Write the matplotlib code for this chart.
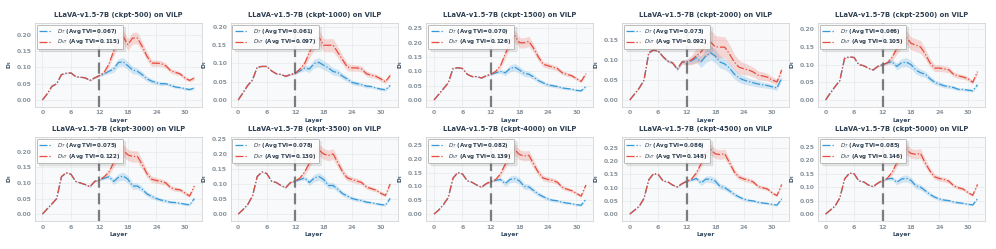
import matplotlib
matplotlib.use("Agg")
import matplotlib.pyplot as plt
import numpy as np

layers = list(range(33))
ckpts = [500, 1000, 1500, 2000, 2500, 3000, 3500, 4000, 4500, 5000]
avg_tvi_t = [0.067, 0.061, 0.070, 0.073, 0.066, 0.075, 0.078, 0.082, 0.086, 0.085]
avg_tvi_vt = [0.115, 0.097, 0.126, 0.092, 0.105, 0.122, 0.130, 0.139, 0.148, 0.146]

# D_T mean per checkpoint (layers 0..32)
dt_mean = [
    [0.0, 0.019, 0.042, 0.05, 0.078, 0.082, 0.083, 0.072, 0.07, 0.068, 0.06, 0.068, 0.075,
     0.08, 0.088, 0.095, 0.115, 0.117, 0.105, 0.092, 0.088, 0.078, 0.065, 0.058, 0.053, 0.05,
     0.05, 0.045, 0.04, 0.038, 0.035, 0.032, 0.037],
    [0.0, 0.02, 0.04, 0.055, 0.09, 0.092, 0.092, 0.08, 0.072, 0.07, 0.065, 0.07, 0.073,
     0.08, 0.087, 0.085, 0.1, 0.103, 0.095, 0.088, 0.078, 0.075, 0.065, 0.057, 0.048, 0.045,
     0.042, 0.038, 0.037, 0.033, 0.03, 0.028, 0.04],
    [0.0, 0.02, 0.04, 0.06, 0.11, 0.113, 0.11, 0.09, 0.082, 0.082, 0.077, 0.085, 0.09,
     0.095, 0.1, 0.095, 0.11, 0.115, 0.105, 0.093, 0.09, 0.08, 0.068, 0.06, 0.053, 0.05,
     0.047, 0.042, 0.04, 0.038, 0.034, 0.032, 0.048],
    [0.0, 0.015, 0.03, 0.05, 0.118, 0.125, 0.122, 0.108, 0.097, 0.093, 0.077, 0.095, 0.095,
     0.098, 0.105, 0.095, 0.11, 0.118, 0.11, 0.095, 0.09, 0.08, 0.065, 0.055, 0.05, 0.046,
     0.043, 0.04, 0.038, 0.036, 0.033, 0.03, 0.055],
    [0.0, 0.02, 0.038, 0.055, 0.118, 0.122, 0.12, 0.1, 0.097, 0.09, 0.085, 0.095, 0.1,
     0.105, 0.108, 0.095, 0.105, 0.107, 0.1, 0.085, 0.077, 0.073, 0.06, 0.05, 0.045, 0.04,
     0.038, 0.035, 0.03, 0.03, 0.028, 0.026, 0.043],
    [0.0, 0.017, 0.033, 0.05, 0.12, 0.133, 0.128, 0.105, 0.1, 0.095, 0.088, 0.105, 0.11,
     0.115, 0.12, 0.105, 0.118, 0.122, 0.112, 0.09, 0.09, 0.08, 0.065, 0.057, 0.05, 0.045,
     0.042, 0.038, 0.037, 0.035, 0.032, 0.03, 0.05],
    [0.0, 0.015, 0.032, 0.06, 0.125, 0.14, 0.135, 0.11, 0.105, 0.095, 0.088, 0.105, 0.11,
     0.115, 0.12, 0.105, 0.12, 0.125, 0.115, 0.095, 0.095, 0.082, 0.068, 0.06, 0.052, 0.048,
     0.045, 0.04, 0.038, 0.035, 0.032, 0.03, 0.052],
    [0.0, 0.015, 0.035, 0.06, 0.13, 0.15, 0.145, 0.12, 0.115, 0.105, 0.097, 0.11, 0.118,
     0.122, 0.125, 0.11, 0.125, 0.128, 0.12, 0.1, 0.098, 0.085, 0.072, 0.063, 0.055, 0.05,
     0.048, 0.043, 0.04, 0.038, 0.034, 0.032, 0.055],
    [0.0, 0.015, 0.03, 0.06, 0.13, 0.153, 0.15, 0.125, 0.122, 0.11, 0.103, 0.115, 0.125,
     0.128, 0.135, 0.118, 0.132, 0.132, 0.125, 0.105, 0.1, 0.088, 0.075, 0.065, 0.057, 0.052,
     0.05, 0.045, 0.042, 0.04, 0.037, 0.034, 0.058],
    [0.0, 0.015, 0.03, 0.06, 0.13, 0.152, 0.15, 0.123, 0.12, 0.108, 0.102, 0.115, 0.125,
     0.13, 0.133, 0.118, 0.13, 0.133, 0.125, 0.105, 0.1, 0.087, 0.073, 0.063, 0.056, 0.052,
     0.05, 0.045, 0.042, 0.04, 0.037, 0.034, 0.057],
]

# D_VT mean per checkpoint (layers 0..32)
dvt_mean = [
    [0.0, 0.019, 0.042, 0.05, 0.078, 0.082, 0.083, 0.072, 0.07, 0.068, 0.06, 0.068, 0.075,
     0.085, 0.11, 0.15, 0.185, 0.195, 0.17, 0.19, 0.19, 0.165, 0.135, 0.113, 0.113, 0.112,
     0.105, 0.09, 0.085, 0.08, 0.068, 0.06, 0.068],
    [0.0, 0.02, 0.04, 0.055, 0.09, 0.092, 0.092, 0.08, 0.072, 0.07, 0.065, 0.07, 0.073,
     0.085, 0.1, 0.13, 0.155, 0.172, 0.15, 0.15, 0.15, 0.13, 0.11, 0.09, 0.088, 0.088,
     0.085, 0.072, 0.068, 0.065, 0.058, 0.05, 0.067],
    [0.0, 0.02, 0.04, 0.06, 0.11, 0.113, 0.11, 0.09, 0.082, 0.082, 0.077, 0.085, 0.09,
     0.1, 0.12, 0.16, 0.2, 0.225, 0.2, 0.2, 0.205, 0.18, 0.15, 0.125, 0.12, 0.115,
     0.11, 0.095, 0.09, 0.085, 0.075, 0.065, 0.092],
    [0.0, 0.015, 0.03, 0.05, 0.118, 0.125, 0.122, 0.108, 0.097, 0.093, 0.077, 0.095, 0.095,
     0.1, 0.11, 0.12, 0.135, 0.145, 0.133, 0.132, 0.132, 0.115, 0.095, 0.082, 0.078, 0.075,
     0.07, 0.062, 0.06, 0.057, 0.05, 0.045, 0.075],
    [0.0, 0.02, 0.038, 0.055, 0.118, 0.122, 0.12, 0.1, 0.097, 0.09, 0.085, 0.095, 0.1,
     0.105, 0.12, 0.145, 0.165, 0.178, 0.16, 0.155, 0.15, 0.13, 0.105, 0.09, 0.09, 0.088,
     0.085, 0.072, 0.068, 0.065, 0.06, 0.05, 0.08],
    [0.0, 0.017, 0.033, 0.05, 0.12, 0.133, 0.128, 0.105, 0.1, 0.095, 0.088, 0.105, 0.11,
     0.12, 0.135, 0.165, 0.195, 0.205, 0.19, 0.185, 0.185, 0.16, 0.13, 0.112, 0.108, 0.105,
     0.1, 0.085, 0.08, 0.078, 0.068, 0.058, 0.09],
    [0.0, 0.015, 0.032, 0.06, 0.125, 0.14, 0.135, 0.11, 0.105, 0.095, 0.088, 0.105, 0.11,
     0.12, 0.14, 0.17, 0.2, 0.213, 0.2, 0.195, 0.2, 0.17, 0.14, 0.12, 0.115, 0.11,
     0.105, 0.09, 0.085, 0.08, 0.07, 0.062, 0.1],
    [0.0, 0.015, 0.035, 0.06, 0.13, 0.15, 0.145, 0.12, 0.115, 0.105, 0.097, 0.11, 0.118,
     0.125, 0.145, 0.18, 0.215, 0.233, 0.215, 0.21, 0.212, 0.18, 0.15, 0.13, 0.125, 0.122,
     0.115, 0.097, 0.09, 0.085, 0.075, 0.065, 0.105],
    [0.0, 0.015, 0.03, 0.06, 0.13, 0.153, 0.15, 0.125, 0.122, 0.11, 0.103, 0.115, 0.125,
     0.133, 0.155, 0.19, 0.23, 0.245, 0.228, 0.225, 0.228, 0.195, 0.16, 0.14, 0.133, 0.128,
     0.122, 0.105, 0.1, 0.095, 0.08, 0.07, 0.112],
    [0.0, 0.015, 0.03, 0.06, 0.13, 0.152, 0.15, 0.123, 0.12, 0.108, 0.102, 0.115, 0.125,
     0.133, 0.155, 0.19, 0.225, 0.24, 0.225, 0.222, 0.225, 0.19, 0.16, 0.138, 0.132, 0.128,
     0.122, 0.105, 0.098, 0.093, 0.08, 0.07, 0.11],
]

# Band half-widths (layers 0..32)
dt_std = [
    [0.0, 0.001, 0.001, 0.001, 0.001, 0.001, 0.001, 0.001, 0.001, 0.001, 0.002, 0.002, 0.003,
     0.004, 0.007, 0.010, 0.012, 0.013, 0.012, 0.011, 0.010, 0.009, 0.008, 0.007, 0.006, 0.006,
     0.005, 0.005, 0.004, 0.004, 0.004, 0.004, 0.004],
] * 10
dvt_std = [
    [0.0, 0.001, 0.001, 0.001, 0.001, 0.001, 0.001, 0.001, 0.001, 0.001, 0.002, 0.002, 0.003,
     0.005, 0.010, 0.015, 0.018, 0.020, 0.018, 0.018, 0.018, 0.015, 0.012, 0.010, 0.009, 0.009,
     0.008, 0.007, 0.007, 0.006, 0.006, 0.005, 0.006],
] * 10
dt_std[3] = [0.0, 0.001, 0.001, 0.001, 0.002, 0.002, 0.002, 0.003, 0.003, 0.003, 0.004, 0.005, 0.006,
             0.008, 0.011, 0.014, 0.017, 0.018, 0.017, 0.015, 0.014, 0.013, 0.012, 0.011, 0.010, 0.009,
             0.008, 0.008, 0.007, 0.007, 0.006, 0.006, 0.006]
dvt_std[3] = [0.0, 0.001, 0.001, 0.001, 0.002, 0.002, 0.002, 0.003, 0.003, 0.003, 0.004, 0.005, 0.007,
              0.012, 0.018, 0.024, 0.028, 0.030, 0.028, 0.027, 0.026, 0.024, 0.020, 0.017, 0.015, 0.013,
              0.012, 0.011, 0.010, 0.009, 0.008, 0.007, 0.007]

BLUE = "#3498db"
RED = "#e74c3c"

plt.rcParams["font.family"] = ["DejaVu Sans"]
fig, axes = plt.subplots(2, 5, figsize=(9.96, 2.49), dpi=100)
fig.subplots_adjust(left=0.035, right=0.989, bottom=0.112, top=0.908, wspace=0.172, hspace=0.357)

x = np.array(layers)
for i, ax in enumerate(axes.flat):
    mt = np.array(dt_mean[i]); st = np.array(dt_std[i])
    mv = np.array(dvt_mean[i]); sv = np.array(dvt_std[i])
    ax.set_facecolor("#f8f9fa")
    ax.fill_between(x, mt - st, mt + st, color=BLUE, alpha=0.2, lw=0)
    ax.fill_between(x, mv - sv, mv + sv, color=RED, alpha=0.2, lw=0)
    ax.plot(x, mt, linestyle="-.", color=BLUE, lw=0.9,
            label=r"$D_T$ (Avg TVI=%.3f)" % avg_tvi_t[i])
    ax.plot(x, mv, linestyle="-.", color=RED, lw=0.9,
            label=r"$D_{VT}$ (Avg TVI=%.3f)" % avg_tvi_vt[i])
    ax.axvline(12, color="#555555", linestyle=(0, (5, 2.5)), lw=1.6, alpha=0.75)
    ax.margins(x=0.05, y=0.1)
    ax.set_xticks([0, 6, 12, 18, 24, 30])
    ax.yaxis.set_major_locator(plt.MultipleLocator(0.05))
    ax.yaxis.set_major_formatter(plt.FormatStrFormatter("%.2f"))
    ax.grid(True, color="#e6e8ea", lw=0.5)
    ax.set_axisbelow(True)
    for s in ax.spines.values():
        s.set_color("#cccccc")
        s.set_linewidth(0.5)
    ax.tick_params(axis="both", labelsize=4.4, colors="#8a959e", length=0, pad=2.5)
    for lab in ax.get_xticklabels() + ax.get_yticklabels():
        lab.set_fontweight("bold")
    ax.set_title("LLaVA-v1.5-7B (ckpt-%d) on ViLP" % ckpts[i], fontsize=4.9,
                 fontweight="bold", color="#2c3e50", pad=4)
    ax.set_xlabel("Layer", fontsize=4.2, fontweight="bold", color="#34495e", labelpad=1.5)
    ax.set_ylabel(r"$\mathbf{D_l}$", fontsize=4.4, color="#34495e", labelpad=2)
    leg = ax.legend(loc="upper left", frameon=True, fancybox=True,
                    shadow={"alpha": 0.12}, borderpad=0.45, handlelength=2.4, labelspacing=0.25,
                    borderaxespad=0.3, prop={"size": 4.0, "weight": "bold"})
    leg.get_frame().set_edgecolor("#999999")
    leg.get_frame().set_linewidth(0.5)
    leg.get_frame().set_alpha(0.9)
    for t in leg.get_texts():
        t.set_color("#2c3e50")

fig.savefig("out.png", dpi=100, facecolor="white")
